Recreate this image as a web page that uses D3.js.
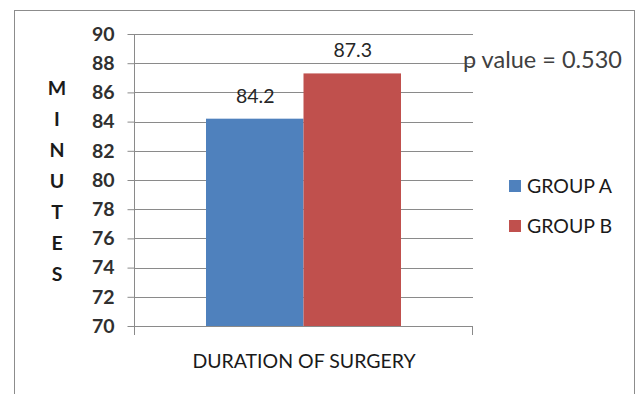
<!DOCTYPE html>
<html>
<head>
<meta charset="utf-8">
<script src="https://cdn.jsdelivr.net/npm/d3@7"></script>
<style>
  html, body { margin: 0; padding: 0; background: #fff; }
  svg { display: block; }
  text { font-family: Lato, "Open Sans", sans-serif; }
</style>
</head>
<body>
<svg id="chart" width="641" height="394"></svg>
<script>
// Duration of surgery (minutes) per group
const groups = ["GROUP A", "GROUP B"];
const durations = [84.2, 87.3];
const colors = ["#4f81bd", "#c0504d"];
const yTicks = [70, 72, 74, 76, 78, 80, 82, 84, 86, 88, 90];
const category = "DURATION OF SURGERY";
const yTitle = ["M", "I", "N", "U", "T", "E", "S"];
const note = "p value = 0.530";

const svg = d3.select("#chart");

// chart frame
svg.append("rect")
  .attr("x", 14.5).attr("y", 10.5)
  .attr("width", 620).attr("height", 400)
  .attr("fill", "#fff")
  .attr("stroke", "#8c8c8c").attr("stroke-width", 1);

const plot = { left: 134, right: 473, top: 34, bottom: 326 };

const y = d3.scaleLinear().domain([70, 90]).range([plot.bottom, plot.top]);
const x = d3.scaleBand().domain(groups).range([206, 401]).paddingInner(0).paddingOuter(0);

// gridlines
svg.append("g")
  .selectAll("line")
  .data(yTicks.filter(t => t !== 70))
  .join("line")
  .attr("x1", plot.left).attr("x2", plot.right)
  .attr("y1", d => Math.round(y(d)) + 0.5).attr("y2", d => Math.round(y(d)) + 0.5)
  .attr("stroke", "#8a8a8a").attr("stroke-width", 1);

// y axis
const yAxis = d3.axisLeft(y).tickValues(yTicks).tickSize(7).tickPadding(13).tickFormat(d3.format("d"));
const gy = svg.append("g").attr("transform", `translate(${plot.left + 0.5},0)`).call(yAxis);
gy.select(".domain").remove();
gy.selectAll(".tick line").attr("stroke", "#8a8a8a");
gy.selectAll(".tick text")
  .attr("fill", "#303030")
  .style("font-size", "19.5px")
  .style("font-weight", "bold");
svg.append("line")
  .attr("x1", plot.left + 0.5).attr("x2", plot.left + 0.5)
  .attr("y1", plot.top).attr("y2", 335)
  .attr("stroke", "#8a8a8a");

// bars
svg.append("g")
  .selectAll("rect")
  .data(groups)
  .join("rect")
  .attr("x", d => x(d))
  .attr("width", x.bandwidth())
  .attr("y", (d, i) => y(durations[i]))
  .attr("height", (d, i) => y(70) - y(durations[i]))
  .attr("fill", (d, i) => colors[i]);

// x axis
svg.append("line")
  .attr("x1", plot.left).attr("x2", plot.right)
  .attr("y1", Math.round(y(70)) + 0.5).attr("y2", Math.round(y(70)) + 0.5)
  .attr("stroke", "#8a8a8a");
svg.append("line")
  .attr("x1", plot.right - 0.5).attr("x2", plot.right - 0.5)
  .attr("y1", y(70)).attr("y2", 335)
  .attr("stroke", "#8a8a8a");

// value labels
svg.append("g")
  .selectAll("text")
  .data(groups)
  .join("text")
  .attr("x", d => x(d) + x.bandwidth() / 2 + 0.5)
  .attr("y", (d, i) => y(durations[i]) - 16)
  .attr("text-anchor", "middle")
  .attr("fill", "#262626")
  .style("font-size", "19.5px")
  .text((d, i) => durations[i].toFixed(1));

// category label
svg.append("text")
  .attr("x", (plot.left + plot.right) / 2 + 0.5)
  .attr("y", 368)
  .attr("text-anchor", "middle")
  .attr("fill", "#1a1a1a")
  .style("font-size", "19.5px")
  .text(category);

// y title, stacked letters
svg.append("g")
  .selectAll("text")
  .data(yTitle)
  .join("text")
  .attr("x", 57)
  .attr("y", (d, i) => 95 + i * 31)
  .attr("text-anchor", "middle")
  .attr("fill", "#1a1a1a")
  .style("font-size", "19.5px")
  .style("font-weight", "bold")
  .text(d => d);

// annotation
svg.append("text")
  .attr("x", 463)
  .attr("y", 68)
  .attr("fill", "#404040")
  .style("font-size", "23.5px")
  .text(note);

// legend
const legend = svg.append("g")
  .selectAll("g")
  .data(groups)
  .join("g")
  .attr("transform", (d, i) => `translate(509,${180 + i * 40})`);
legend.append("rect")
  .attr("width", 12).attr("height", 12)
  .attr("fill", (d, i) => colors[i]);
legend.append("text")
  .attr("x", 18).attr("y", 12.5)
  .attr("fill", "#1a1a1a")
  .style("font-size", "19.5px")
  .text(d => d);
</script>
</body>
</html>
